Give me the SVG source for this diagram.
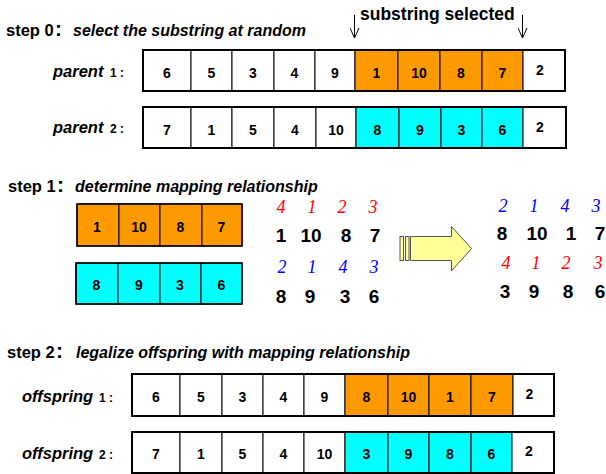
<svg xmlns="http://www.w3.org/2000/svg" width="606" height="474" viewBox="0 0 606 474">
<style>
  .cell{stroke:#000;stroke-width:1}
  .w{fill:#fff}
  .o{fill:#ff9900}
  .c{fill:#00ffff}
  .frame{fill:none;stroke:#000;stroke-width:2}
  text{font-family:"Liberation Sans",Arial,sans-serif;fill:#000}
  .num{font-size:14px;font-weight:bold;text-anchor:middle}
  .head{font-size:16.5px;font-weight:bold}
  .colon{font-size:21px;font-weight:bold}
  .sub{font-size:16px;font-weight:bold;font-style:italic}
  .lab{font-size:16.5px;font-weight:bold;font-style:italic}
  .idx{font-size:12px;font-weight:bold;font-style:normal}
  .sel{font-size:17.5px;font-weight:bold}
  .big{font-size:19px;font-weight:bold;text-anchor:middle}
  .r{font-family:"Liberation Serif","Times New Roman",serif;font-style:italic;font-size:18px;fill:#ff0000;text-anchor:middle}
  .b{font-family:"Liberation Serif","Times New Roman",serif;font-style:italic;font-size:18px;fill:#0000ff;text-anchor:middle}
  .conn{stroke:#000;stroke-width:1;fill:none}
  .blk{fill:#ffff99;stroke:#555;stroke-width:1}
</style>
<defs>
  <marker id="vhead" viewBox="0 0 12 10" refX="11" refY="5" markerWidth="12" markerHeight="10" markerUnits="userSpaceOnUse" orient="auto">
    <path d="M1,0.5 L11,5 L1,9.5" fill="none" stroke="#000" stroke-width="1"/>
  </marker>
</defs>

<!-- headings -->
<g id="step0">
  <text class="head" x="6" y="36">step 0<tspan class="colon" x="55">:</tspan><tspan class="sub" x="73">select the substring at random</tspan></text>
</g>
<g id="selected-label">
  <text class="sel" x="360" y="20">substring selected</text>
</g>
<g id="step1">
  <text class="head" x="8" y="192">step 1<tspan class="colon" x="57">:</tspan><tspan class="sub" x="75">determine mapping relationship</tspan></text>
</g>
<g id="step2">
  <text class="head" x="7" y="358">step 2<tspan class="colon" x="56">:</tspan><tspan class="sub" x="76">legalize offspring with mapping relationship</tspan></text>
</g>

<!-- parent 1 -->
<g id="parent1">
  <text class="lab" x="53" y="77">parent<tspan class="idx" x="110">1 :</tspan></text>
  <rect class="cell w" x="143" y="50" width="48" height="41"/>
  <rect class="cell w" x="191" y="50" width="41" height="41"/>
  <rect class="cell w" x="232" y="50" width="42" height="41"/>
  <rect class="cell w" x="274" y="50" width="41" height="41"/>
  <rect class="cell w" x="315" y="50" width="40" height="41"/>
  <rect class="cell o" x="355" y="50" width="43" height="41"/>
  <rect class="cell o" x="398" y="50" width="42" height="41"/>
  <rect class="cell o" x="440" y="50" width="42" height="41"/>
  <rect class="cell o" x="482" y="50" width="41" height="41"/>
  <rect class="cell w" x="523" y="50" width="42" height="41"/>
  <rect class="frame" x="143" y="50" width="422" height="41"/>
  <text class="num" x="167" y="77.5">6</text>
  <text class="num" x="211.5" y="77.5">5</text>
  <text class="num" x="253" y="77.5">3</text>
  <text class="num" x="294.5" y="77.5">4</text>
  <text class="num" x="335" y="77.5">9</text>
  <text class="num" x="376.5" y="77.5">1</text>
  <text class="num" x="419" y="77.5">10</text>
  <text class="num" x="461" y="77.5">8</text>
  <text class="num" x="502.5" y="77.5">7</text>
  <text class="num" x="540" y="75">2</text>
</g>

<!-- parent 2 -->
<g id="parent2">
  <text class="lab" x="53" y="133">parent<tspan class="idx" x="110">2 :</tspan></text>
  <rect class="cell w" x="143" y="107" width="48" height="41"/>
  <rect class="cell w" x="191" y="107" width="41" height="41"/>
  <rect class="cell w" x="232" y="107" width="42" height="41"/>
  <rect class="cell w" x="274" y="107" width="42" height="41"/>
  <rect class="cell w" x="316" y="107" width="40" height="41"/>
  <rect class="cell c" x="356" y="107" width="43" height="41"/>
  <rect class="cell c" x="399" y="107" width="42" height="41"/>
  <rect class="cell c" x="441" y="107" width="41" height="41"/>
  <rect class="cell c" x="482" y="107" width="41" height="41"/>
  <rect class="cell w" x="523" y="107" width="43" height="41"/>
  <rect class="frame" x="143" y="107" width="423" height="41"/>
  <text class="num" x="167" y="134.5">7</text>
  <text class="num" x="211.5" y="134.5">1</text>
  <text class="num" x="253" y="134.5">5</text>
  <text class="num" x="295" y="134.5">4</text>
  <text class="num" x="336" y="134.5">10</text>
  <text class="num" x="377.5" y="134.5">8</text>
  <text class="num" x="420" y="134.5">9</text>
  <text class="num" x="461.5" y="134.5">3</text>
  <text class="num" x="502.5" y="134.5">6</text>
  <text class="num" x="540" y="132">2</text>
</g>

<!-- step 1 boxes -->
<g id="sub1">
  <rect class="cell o" x="77" y="204" width="42" height="42"/>
  <rect class="cell o" x="119" y="204" width="41" height="42"/>
  <rect class="cell o" x="160" y="204" width="42" height="42"/>
  <rect class="cell o" x="202" y="204" width="40" height="42"/>
  <rect class="frame" x="77" y="204" width="165" height="42" style="stroke-width:1.5"/>
  <text class="num" x="97" y="231.5">1</text>
  <text class="num" x="139" y="231.5">10</text>
  <text class="num" x="180.5" y="231.5">8</text>
  <text class="num" x="221.5" y="231.5">7</text>
</g>
<g id="sub2">
  <rect class="cell c" x="76" y="263" width="42" height="41"/>
  <rect class="cell c" x="118" y="263" width="42" height="41"/>
  <rect class="cell c" x="160" y="263" width="41" height="41"/>
  <rect class="cell c" x="201" y="263" width="41" height="41"/>
  <rect class="frame" x="76" y="263" width="166" height="41" style="stroke-width:1.5"/>
  <text class="num" x="96.5" y="290">8</text>
  <text class="num" x="139" y="290">9</text>
  <text class="num" x="180" y="290">3</text>
  <text class="num" x="221.5" y="290">6</text>
</g>

<!-- mapping tables -->
<g id="map-left">
  <text class="r" x="281" y="213">4</text>
  <text class="r" x="312" y="213">1</text>
  <text class="r" x="342" y="213">2</text>
  <text class="r" x="373" y="213">3</text>
  <text class="big" x="281" y="242">1</text>
  <text class="big" x="311" y="242">10</text>
  <text class="big" x="346" y="242">8</text>
  <text class="big" x="375" y="242">7</text>
  <text class="b" x="282" y="273">2</text>
  <text class="b" x="312" y="273">1</text>
  <text class="b" x="343" y="273">4</text>
  <text class="b" x="374" y="273">3</text>
  <text class="big" x="281" y="303">8</text>
  <text class="big" x="310" y="303">9</text>
  <text class="big" x="345" y="303">3</text>
  <text class="big" x="374" y="303">6</text>
</g>
<g id="map-right">
  <text class="b" x="503" y="212">2</text>
  <text class="b" x="534" y="212">1</text>
  <text class="b" x="565" y="212">4</text>
  <text class="b" x="596" y="212">3</text>
  <text class="big" x="502" y="240">8</text>
  <text class="big" x="537" y="240">10</text>
  <text class="big" x="571" y="240">1</text>
  <text class="big" x="600" y="240">7</text>
  <text class="r" x="506" y="269">4</text>
  <text class="r" x="536" y="269">1</text>
  <text class="r" x="566" y="269">2</text>
  <text class="r" x="598" y="269">3</text>
  <text class="big" x="505" y="298">3</text>
  <text class="big" x="534" y="298">9</text>
  <text class="big" x="568" y="298">8</text>
  <text class="big" x="600" y="298">6</text>
</g>

<!-- offspring 1 -->
<g id="offspring1">
  <text class="lab" x="22" y="402">offspring<tspan class="idx" x="99">1 :</tspan></text>
  <rect class="cell w" x="132" y="374" width="48" height="42"/>
  <rect class="cell w" x="180" y="374" width="42" height="42"/>
  <rect class="cell w" x="222" y="374" width="41" height="42"/>
  <rect class="cell w" x="263" y="374" width="41" height="42"/>
  <rect class="cell w" x="304" y="374" width="41" height="42"/>
  <rect class="cell o" x="345" y="374" width="43" height="42"/>
  <rect class="cell o" x="388" y="374" width="41" height="42"/>
  <rect class="cell o" x="429" y="374" width="42" height="42"/>
  <rect class="cell o" x="471" y="374" width="42" height="42"/>
  <rect class="cell w" x="513" y="374" width="41" height="42"/>
  <rect class="frame" x="132" y="374" width="422" height="42"/>
  <text class="num" x="156" y="402">6</text>
  <text class="num" x="201" y="402">5</text>
  <text class="num" x="242.5" y="402">3</text>
  <text class="num" x="283.5" y="402">4</text>
  <text class="num" x="324.5" y="402">9</text>
  <text class="num" x="366.5" y="402">8</text>
  <text class="num" x="408.5" y="402">10</text>
  <text class="num" x="450" y="402">1</text>
  <text class="num" x="492" y="402">7</text>
  <text class="num" x="529.5" y="399">2</text>
</g>

<!-- offspring 2 -->
<g id="offspring2">
  <text class="lab" x="22" y="459">offspring<tspan class="idx" x="99">2 :</tspan></text>
  <rect class="cell w" x="132" y="432" width="48" height="41"/>
  <rect class="cell w" x="180" y="432" width="42" height="41"/>
  <rect class="cell w" x="222" y="432" width="41" height="41"/>
  <rect class="cell w" x="263" y="432" width="41" height="41"/>
  <rect class="cell w" x="304" y="432" width="41" height="41"/>
  <rect class="cell c" x="345" y="432" width="43" height="41"/>
  <rect class="cell c" x="388" y="432" width="41" height="41"/>
  <rect class="cell c" x="429" y="432" width="42" height="41"/>
  <rect class="cell c" x="471" y="432" width="41" height="41"/>
  <rect class="cell w" x="512" y="432" width="42" height="41"/>
  <rect class="frame" x="132" y="432" width="422" height="41"/>
  <text class="num" x="156" y="459">7</text>
  <text class="num" x="201" y="459">1</text>
  <text class="num" x="242.5" y="459">5</text>
  <text class="num" x="283.5" y="459">4</text>
  <text class="num" x="324.5" y="459">10</text>
  <text class="num" x="366.5" y="459">3</text>
  <text class="num" x="408.5" y="459">9</text>
  <text class="num" x="450" y="459">8</text>
  <text class="num" x="491.5" y="459">6</text>
  <text class="num" x="529" y="456">2</text>
</g>

<!-- connectors -->
<g id="connectors">
  <line class="conn" x1="354.5" y1="15" x2="354.5" y2="38" marker-end="url(#vhead)"/>
  <line class="conn" x1="522.5" y1="15" x2="522.5" y2="38" marker-end="url(#vhead)"/>
  <g id="block-arrow">
    <rect class="blk" x="400" y="236.5" width="3.5" height="24"/>
    <rect class="blk" x="405.5" y="236.5" width="3.5" height="24"/>
    <polygon class="blk" points="410.5,236.5 451.5,236.5 451.5,226.5 471.5,248.5 451.5,271 451.5,260.5 410.5,260.5"/>
  </g>
</g>
</svg>
